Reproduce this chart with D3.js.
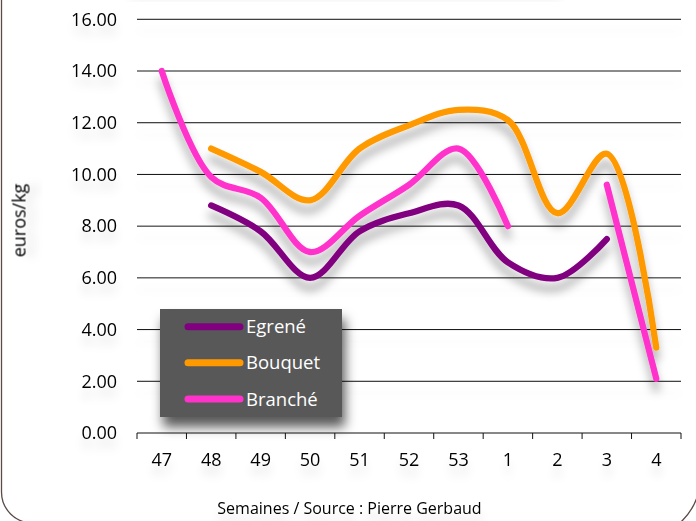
<!DOCTYPE html>
<html><head><meta charset="utf-8">
<script src="https://cdn.jsdelivr.net/npm/d3@7"></script>
<style>body{margin:0;background:#fff}svg{display:block}text{font-family:"Open Sans",sans-serif}</style>
</head><body><svg id="c" width="696" height="521"></svg>
<script>
const weeks = ["47","48","49","50","51","52","53","1","2","3","4"];
const egrene = [null,8.8,7.8,6.0,7.8,8.5,8.8,6.6,6.0,7.5,null];
const bouquet = [null,11.0,10.1,9.0,11.0,11.9,12.5,12.1,8.5,10.8,3.3];
const branche = [14.0,9.9,9.1,7.0,8.4,9.6,11.0,8.0,null,9.6,2.1];
const yTicks = [0,2,4,6,8,10,12,14,16];
const seriesNames = ["Egrené","Bouquet","Branché"];
const seriesColors = ["#800080","#ff9900","#ff33cc"];
const yTitle = "euros/kg";
const xTitle = "Semaines / Source : Pierre Gerbaud";

const svg = d3.select("#c");
const defs = svg.append("defs");
function shadow(id, dx, dy, sd, op){
  const f = defs.append("filter").attr("id", id).attr("x","-50%").attr("y","-50%").attr("width","200%").attr("height","200%");
  f.append("feDropShadow").attr("dx",dx).attr("dy",dy).attr("stdDeviation",sd).attr("flood-color","#000").attr("flood-opacity",op);
}
shadow("txtSh",0,10,4,0.12);
shadow("lineSh",0,10,5,0.33);
shadow("legSh",3,10,6,0.65);
shadow("gridSh",0,12,4,0.07);
defs.append("filter").attr("id","blur").append("feGaussianBlur").attr("stdDeviation",5);

// faint top band
svg.append("rect").attr("x",130).attr("y",-18).attr("width",430).attr("height",18).attr("fill","#f0f0f0").attr("filter","url(#blur)");

// frame
svg.append("path").attr("d","M1.5,-5 V492 A31,31 0 0 0 32.5,523").attr("fill","none").attr("stroke","#5a4a48").attr("stroke-width",1.3);
svg.append("path").attr("d","M700,478 A60,60 0 0 1 640,538").attr("fill","none").attr("stroke","#5a4a48").attr("stroke-width",1.3);

const x = d3.scaleBand().domain(weeks).range([137,681]);
const y = d3.scaleLinear().domain([0,16]).range([433,19.3]);
const cx = d => x(d) + x.bandwidth()/2;

// gridlines
svg.append("g").attr("filter","url(#gridSh)").selectAll("line").data(yTicks.filter(d=>d>0)).join("line")
  .attr("x1",x.range()[0]).attr("x2",x.range()[1]).attr("y1",d=>y(d)).attr("y2",d=>y(d))
  .attr("stroke","#111").attr("stroke-width",1);

// x axis line and ticks at band boundaries
const xa = svg.append("g");
xa.append("line").attr("x1",x.range()[0]).attr("x2",x.range()[1]).attr("y1",y(0)).attr("y2",y(0)).attr("stroke","#111");
xa.selectAll("line.t").data(d3.range(weeks.length+1)).join("line").attr("class","t")
  .attr("x1",i=>x.range()[0]+i*x.step()).attr("x2",i=>x.range()[0]+i*x.step())
  .attr("y1",y(0)).attr("y2",y(0)+6).attr("stroke","#111");

const xLab = svg.append("g").attr("transform",`translate(0,${y(0)})`).attr("filter","url(#txtSh)")
  .call(d3.axisBottom(x).tickSize(0).tickPadding(20));
xLab.select(".domain").remove();
xLab.selectAll("text").attr("font-size",18).attr("font-family","Open Sans").attr("fill","#000");

const yLab = svg.append("g").attr("transform",`translate(137,0)`).attr("filter","url(#txtSh)")
  .call(d3.axisLeft(y).tickValues(yTicks).tickFormat(d3.format(".2f")).tickSize(0).tickPadding(20));
yLab.select(".domain").remove();
yLab.selectAll("text").attr("font-size",18).attr("font-family","Open Sans").attr("fill","#000");

// titles
svg.append("text").attr("transform","translate(25.5,220.5) rotate(-90)").attr("text-anchor","middle")
  .attr("font-size",18).attr("fill","#000").attr("filter","url(#txtSh)").text(yTitle);
svg.append("text").attr("x",349.5).attr("y",514).attr("text-anchor","middle")
  .attr("font-size",16).attr("fill","#000").attr("filter","url(#txtSh)").text(xTitle);

// lines
const series = [egrene,bouquet,branche];
const line = d3.line().defined(d=>d.v!=null).x(d=>cx(d.w)).y(d=>y(d.v)).curve(d3.curveCatmullRom.alpha(0.5));
const lg = svg.append("g").attr("filter","url(#lineSh)");
series.forEach((s,i)=>{
  lg.append("path").datum(weeks.map((w,j)=>({w,v:s[j]})))
    .attr("d",line).attr("fill","none").attr("stroke",seriesColors[i])
    .attr("stroke-width",6.3).attr("stroke-linecap","round").attr("stroke-linejoin","round");
});

// legend
const leg = svg.append("g");
leg.append("rect").attr("x",160).attr("y",309).attr("width",182).attr("height",108).attr("fill","#595959").attr("filter","url(#legSh)");
const legY = d3.scalePoint().domain(seriesNames).range([326.7,399]);
seriesNames.forEach((n,i)=>{
  leg.append("line").attr("x1",188).attr("x2",240).attr("y1",legY(n)).attr("y2",legY(n))
    .attr("stroke",seriesColors[i]).attr("stroke-width",7).attr("stroke-linecap","round");
  leg.append("text").attr("x",246).attr("y",legY(n)+6.6).attr("font-size",18.5).attr("fill","#fff").text(n);
});
</script></body></html>
